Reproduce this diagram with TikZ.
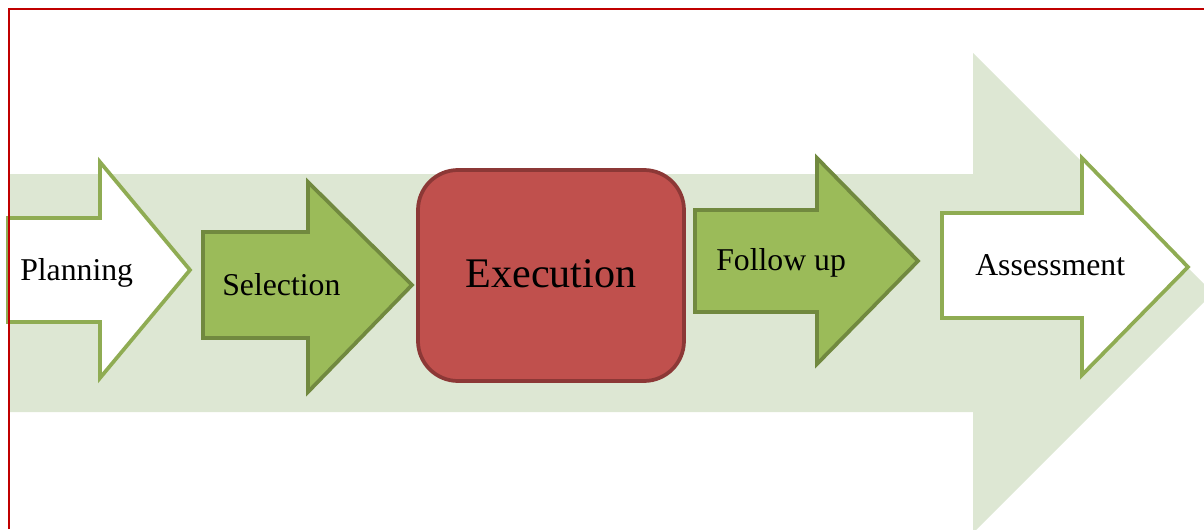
\documentclass[tikz,border=0pt]{standalone}
\usepackage{fontspec}
\setmainfont{Liberation Serif}
\usetikzlibrary{positioning}

\definecolor{bandgreen}{RGB}{221,231,211}
\definecolor{leafgreen}{RGB}{155,187,89}
\definecolor{leafedge}{RGB}{113,137,63}
\definecolor{lightedge}{RGB}{143,172,83}
\definecolor{execred}{RGB}{192,80,77}
\definecolor{execedge}{RGB}{140,56,54}
\definecolor{frame}{RGB}{192,0,0}

\tikzset{
  openarrow/.style={draw=lightedge,fill=white,line width=2.8pt},
  fullarrow/.style={draw=leafedge,fill=leafgreen,line width=2.8pt},
  stepbox/.style={draw=execedge,fill=execred,line width=2.8pt,rounded corners=30pt},
  steplabel/.style={inner sep=0pt,anchor=base west,font=\fontsize{23.8}{28}\selectfont}
}

\begin{document}
\begin{tikzpicture}[x=0.75pt,y=-0.75pt]
  \useasboundingbox (0,0) rectangle (1204,529);
  \clip (0,0) rectangle (1204,529);
  % background band
  \fill[bandgreen] (9,174) -- (973,174) -- (973,53) -- (1213,293)
    -- (973,533) -- (973,412) -- (9,412) -- cycle;
  % stages
  \draw[openarrow] (8,218) -- (100,218) -- (100,162) -- (190,270)
    -- (100,378) -- (100,322) -- (8,322) -- cycle;
  \draw[fullarrow] (203,232) -- (308,232) -- (308,182) -- (412,285)
    -- (308,392) -- (308,338) -- (203,338) -- cycle;
  \draw[stepbox] (418,170) rectangle (684,381);
  \draw[fullarrow] (695,210) -- (817,210) -- (817,158) -- (918,261)
    -- (817,364) -- (817,312) -- (695,312) -- cycle;
  \draw[openarrow] (942,213) -- (1082,213) -- (1082,158) -- (1188,267)
    -- (1082,375) -- (1082,318) -- (942,318) -- cycle;
  % labels
  \node (planning)   [steplabel] at (20,280)  {Planning};
  \node (selection)  [steplabel] at (222,295) {Selection};
  \node (execution)  [steplabel,anchor=base,font=\fontsize{31.6}{36}\selectfont] at (551,287) {Execution};
  \node (followup)   [steplabel] at (716,270) {Follow up};
  \node (assessment) [steplabel] at (975,275) {Assessment};
  % frame
  \draw[frame,line width=1.5pt] (9,529) -- (9,9) -- (1204,9);
\end{tikzpicture}
\end{document}
